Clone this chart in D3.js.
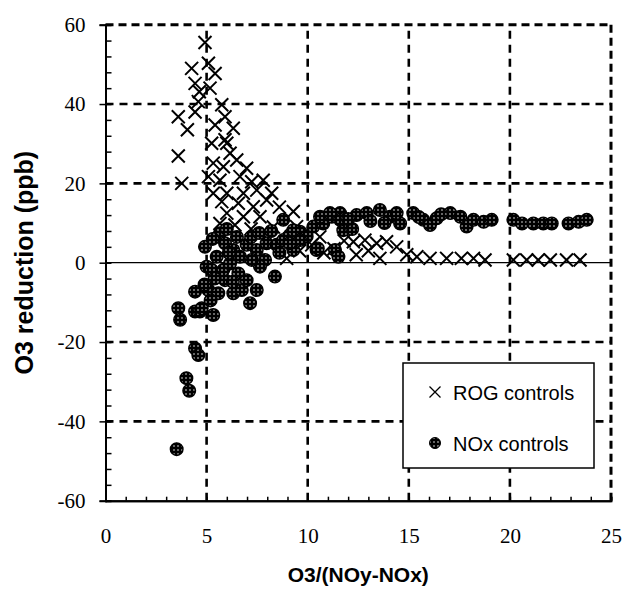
<!DOCTYPE html>
<html><head><meta charset="utf-8">
<script src="https://cdn.jsdelivr.net/npm/d3@7"></script>
<style>body{margin:0;background:#fff}</style>
</head><body>
<script>
// ---- data ----
const rogX = [4.92,4.26,5.09,5.42,4.43,4.64,5.17,4.59,5.75,4.43,3.6,5.91,4.05,5.42,6.32,6.0,3.6,6.16,6.49,5.33,5.83,6.98,3.77,5.09,5.66,6.65,7.23,7.8,5.33,6.0,6.82,7.48,8.22,
  5.25,5.91,7.97,5.75,6.57,7.31,6.0,6.82,7.64,9.29,5.66,9.45,8.96,8.6,8.3,7.2,6.4,8.0,
  12.26,12.83,13.41,13.9,14.4,13.57,15.4,16.05,16.87,17.6,18.2,18.77,20.17,20.83,21.4,22.0,22.8,23.47,
  9.6,10.2,10.8,11.3,11.8,12.4,13.0,14.9,9.1,10.6];
const rogY = [55.5,49,50.3,47.7,45.2,43.1,44,40.6,39.8,38,36.8,36.8,33.5,34.7,33.9,30.1,26.9,27.6,25.9,25.1,24.2,23.8,20,21.7,20.8,21.7,20.4,20.8,17.5,17.5,17.5,18.3,17.5,
  30.1,31,15.8,15.4,15,14.1,12.5,11.6,11.6,12.9,9.9,9.1,1.1,14,9,8.5,9.5,6,
  5.3,5.7,4.9,5.3,4,1.1,1.5,1.1,1.1,1.1,1.1,0.7,0.7,0.7,0.7,0.7,0.7,0.7,
  3,4.5,2.5,3.5,5.5,2,3,2,6,6.5];
const noxX = [3.6,3.69,4.43,4.67,5.33,4.43,4.43,4.59,4.0,4.14,3.52,
  4.76,5.09,5.58,5.91,6.32,6.74,7.15,7.48,8.38,5.0,4.92,5.66,5.91,6.32,5.5,5.25,5.83,6.16,6.57,6.98,6.98,7.48,7.89,7.64,7.23,6.65,7.97,8.46,8.79,9.12,9.62,9.29,9.95,10.28,10.77,11.19,11.6,11.76,10.44,11.35,11.52,
  9.29,8.79,9.62,10.61,11.1,11.6,12.42,12.92,13.57,14.07,14.57,14.4,15.22,15.72,16.05,16.38,17.05,17.55,17.86,18.2,18.7,19.1,20.17,20.6,21.16,21.65,22.07,22.9,23.4,23.8,10.5,9.1,
  5.3,6.0,6.5,7.2,7.6,8.2,8.6,6.1,5.4,6.3,4.9,5.2,12.2,13.1,15.5,16.6,13.8,12.0];
const noxY = [-11.5,-14.4,-12.3,-12.3,-13.2,-7.3,-21.6,-23.3,-29.1,-32.3,-47,
  -11.5,-6.9,-7.7,-4.4,-7.7,-6.9,-10.2,-6.9,-3.5,-1,4,7.4,4.9,3.2,1.5,-1.8,-1.8,-0.2,-2.7,-4.4,4.5,3.2,0.7,-1,0.7,1.5,4.9,4.5,5.7,7,7.8,3.2,6.6,9.1,9.9,11.6,12.5,8.2,3.2,3.2,1.5,
  8.2,10.8,5.7,11.6,12.5,10.8,12,12.5,13.3,11.6,9.9,12.5,12.5,10.8,9.5,11.2,12.5,11.6,9.1,10.8,10.3,10.8,10.8,9.9,9.9,9.9,9.9,9.9,10.3,10.8,3.6,4.9,
  6,8.5,6.5,6.5,7.5,8,2.5,2.5,-4,-4.8,-5.5,-9.5,8.5,10.5,11.5,12.2,10,11];
const xTicks = [0,5,10,15,20,25];
const yTicks = [-60,-40,-20,0,20,40,60];
const seriesNames = ["ROG controls","NOx controls"];
const xTitle = "O3/(NOy-NOx)";
const yTitle = "O3 reduction (ppb)";

// ---- drawing ----
const W = 625, H = 589;
const L = 105.5, R = 611, T = 24.7, B = 500.7;
const SERIF = "'Liberation Serif', 'Times New Roman', Times, serif";
const SANS = "'Liberation Sans', Arial, sans-serif";
const svg = d3.select("body").append("svg").attr("width", W).attr("height", H)
  .style("background","#fff");
const defs = svg.append("defs");
const pat = defs.append("pattern").attr("id","dots").attr("patternUnits","userSpaceOnUse")
  .attr("width",4).attr("height",4);
pat.append("rect").attr("width",4).attr("height",4).attr("fill","#000");
pat.append("circle").attr("cx",2).attr("cy",2).attr("r",0.75).attr("fill","#fff");

const x = d3.scaleLinear().domain([0,25]).range([L,R]);
const y = d3.scaleLinear().domain([-60,60]).range([B,T]);

const grid = svg.append("g").attr("stroke","#000").attr("stroke-width",2.6).attr("stroke-dasharray","8,6");
grid.selectAll("line.v").data(xTicks.filter(d=>d>0 && d<25)).enter().append("line")
  .attr("x1",d=>x(d)).attr("x2",d=>x(d)).attr("y1",B).attr("y2",T);
grid.selectAll("line.h").data(yTicks.filter(d=>d!==0 && d!==-60 && d!==60)).enter().append("line")
  .attr("x1",L).attr("x2",R).attr("y1",d=>y(d)).attr("y2",d=>y(d));
// zero line
svg.append("line").attr("x1",L).attr("x2",R).attr("y1",y(0)).attr("y2",y(0))
  .attr("stroke","#000").attr("stroke-width",1.3);

const fmt = d => String(d);
// axes
const yAxis = svg.append("g").attr("transform",`translate(${L},0)`)
  .call(d3.axisLeft(y).tickValues(yTicks).tickSize(6).tickPadding(14).tickFormat(fmt));
const yMinor = svg.append("g").attr("transform",`translate(${L},0)`)
  .call(d3.axisRight(y).tickValues(d3.range(-60,61,4)).tickSize(6).tickFormat(""));
const xAxis = svg.append("g").attr("transform",`translate(0,${B})`)
  .call(d3.axisBottom(x).tickValues(xTicks).tickSize(0).tickPadding(27).tickFormat(fmt));
const xMinor = svg.append("g").attr("transform",`translate(0,${B})`)
  .call(d3.axisTop(x).tickValues(d3.range(0,26,1)).tickSize(4).tickFormat(""));
[yAxis,yMinor,xAxis,xMinor].forEach(g=>{
  g.attr("font-family",SERIF).attr("font-size",20);
  g.select(".domain").attr("stroke","#000").attr("stroke-width",2);
  g.selectAll(".tick line").attr("stroke","#000").attr("stroke-width",1.5);
  g.selectAll("text").style("font-family",SERIF).style("font-size","21px").attr("fill","#000");
});

// ROG X markers (drawn first)
const s = 6.5;
const rog = svg.append("g").attr("stroke","#000").attr("stroke-width",2).attr("fill","none");
rog.selectAll("path").data(d3.range(rogX.length)).enter().append("path")
  .attr("d", i => {const cx = x(rogX[i]), cy = y(rogY[i]);
    return `M${cx-s},${cy-s}L${cx+s},${cy+s}M${cx-s},${cy+s}L${cx+s},${cy-s}`;});

// NOx circles
svg.append("g").selectAll("circle").data(d3.range(noxX.length)).enter().append("circle")
  .attr("cx", i => x(noxX[i])).attr("cy", i => y(noxY[i])).attr("r",6.3)
  .attr("fill","url(#dots)").attr("stroke","#000").attr("stroke-width",1.4);

// top and right dashed borders
svg.append("line").attr("x1",L).attr("x2",R).attr("y1",T).attr("y2",T)
  .attr("stroke","#000").attr("stroke-width",3).attr("stroke-dasharray","8,5");
svg.append("line").attr("x1",R).attr("x2",R).attr("y1",T).attr("y2",B)
  .attr("stroke","#000").attr("stroke-width",3).attr("stroke-dasharray","8,5");

// legend
const lg = svg.append("g");
lg.append("rect").attr("x",403).attr("y",363).attr("width",191).attr("height",105)
  .attr("fill","#fff").attr("stroke","#000").attr("stroke-width",1.5);
const lx = 435, ly1 = 392, ly2 = 443, ls = 5.5;
lg.append("path").attr("d",`M${lx-ls},${ly1-ls}L${lx+ls},${ly1+ls}M${lx-ls},${ly1+ls}L${lx+ls},${ly1-ls}`)
  .attr("stroke","#000").attr("stroke-width",1.3);
lg.append("circle").attr("cx",lx).attr("cy",ly2).attr("r",5.5).attr("fill","url(#dots)").attr("stroke","#000");
lg.selectAll("text").data(seriesNames).enter().append("text")
  .attr("x",453).attr("y",(d,i)=> i===0 ? ly1+8 : ly2+8)
  .style("font-family",SANS).style("font-size","20px").attr("fill","#000")
  .text(d=>d);

// titles
svg.append("text").attr("x",(L+R)/2).attr("y",582).attr("text-anchor","middle")
  .style("font-family",SANS).style("font-weight","bold").style("font-size","21px")
  .text(xTitle);
svg.append("text").attr("transform",`translate(33,${(T+B)/2}) rotate(-90)`).attr("text-anchor","middle")
  .style("font-family",SANS).style("font-weight","bold").style("font-size","25px")
  .text(yTitle);
</script>
</body></html>
